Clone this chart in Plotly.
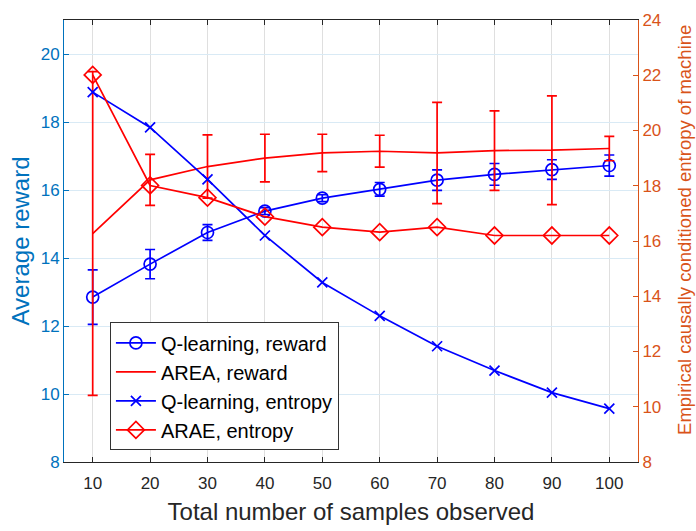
import plotly.graph_objects as go

samples = [10, 20, 30, 40, 50, 60, 70, 80, 90, 100]

q_reward = [12.85, 13.82, 14.75, 15.38, 15.76, 16.02, 16.29, 16.46, 16.60, 16.72]
q_reward_err = [0.80, 0.43, 0.23, 0.10, 0.10, 0.20, 0.30, 0.32, 0.29, 0.31]

area_reward = [14.72, 16.30, 16.69, 16.94, 17.09, 17.14, 17.09, 17.16, 17.17, 17.22]
area_reward_err = [4.76, 0.75, 0.93, 0.70, 0.55, 0.47, 1.49, 1.17, 1.60, 0.36]

q_entropy = [21.39, 20.11, 18.23, 16.20, 14.50, 13.29, 12.19, 11.31, 10.51, 9.93]
arae_entropy = [22.01, 18.01, 17.57, 16.88, 16.50, 16.32, 16.50, 16.20, 16.20, 16.20]

left_ticks = [8, 10, 12, 14, 16, 18, 20]
right_ticks = [8, 10, 12, 14, 16, 18, 20, 22, 24]

BLUE_AX = "#0072BD"
ORANGE_AX = "#D95319"
DARK = "#262626"
FONT = "Liberation Sans, Arial, sans-serif"
LW = 1.7

fig = go.Figure()

fig.add_trace(go.Scatter(
    x=samples, y=q_reward, name="Q-learning, reward", mode="lines+markers",
    line=dict(color="blue", width=LW),
    marker=dict(symbol="circle-open", size=12, color="blue", line=dict(width=LW, color="blue")),
    error_y=dict(type="data", array=q_reward_err, visible=True, color="blue", thickness=LW, width=5),
    legendgroup="a", yaxis="y",
))
fig.add_trace(go.Scatter(
    x=samples, y=area_reward, name="AREA, reward", mode="lines",
    line=dict(color="red", width=LW),
    error_y=dict(type="data", array=area_reward_err, visible=True, color="red", thickness=LW, width=5),
    legendgroup="b", yaxis="y",
))
fig.add_trace(go.Scatter(
    x=samples, y=q_entropy, name="Q-learning, entropy", mode="lines+markers",
    line=dict(color="blue", width=LW),
    marker=dict(symbol="x-thin-open", size=10, color="blue", line=dict(width=LW, color="blue")),
    legendgroup="c", yaxis="y2",
))
fig.add_trace(go.Scatter(
    x=samples, y=arae_entropy, name="ARAE, entropy", mode="lines+markers",
    line=dict(color="red", width=LW),
    marker=dict(symbol="diamond-open", size=13, color="red", line=dict(width=LW, color="red")),
    legendgroup="d", yaxis="y2",
))

fig.update_layout(
    width=696, height=531,
    margin=dict(l=64, r=58, t=11, b=68, pad=0),
    paper_bgcolor="white", plot_bgcolor="white",
    font=dict(family=FONT, color=DARK, size=17),
    showlegend=True,
    legend=dict(
        x=0.080, y=0.3157, xanchor="left", yanchor="top",
        bgcolor="white", bordercolor="#333333", borderwidth=1,
        font=dict(family=FONT, size=20, color="black"),
        tracegroupgap=0, traceorder="grouped", itemwidth=40,
    ),
    xaxis=dict(
        range=[5, 105], tickvals=samples, ticktext=[str(s) for s in samples],
        showgrid=True, gridcolor="rgb(223,223,223)", gridwidth=1,
        showline=True, linecolor=DARK, linewidth=1, mirror="ticks",
        ticks="inside", ticklen=5, tickcolor=DARK, tickwidth=1,
        tickfont=dict(size=17, color=DARK), zeroline=False, ticklabelstandoff=6,
        title=dict(text="Total number of samples observed", font=dict(size=24, color=DARK), standoff=10),
    ),
    yaxis=dict(
        range=[8, 21], tickvals=left_ticks, ticktext=[str(t) for t in left_ticks],
        showgrid=True, gridcolor="rgb(217,234,245)", gridwidth=1,
        showline=True, linecolor=BLUE_AX, linewidth=1,
        ticks="inside", ticklen=5, tickcolor=BLUE_AX, tickwidth=1,
        tickfont=dict(size=17, color=BLUE_AX), zeroline=False,
        title=dict(text="Average reward", font=dict(size=24, color=BLUE_AX), standoff=4),
    ),
    yaxis2=dict(
        range=[8, 24], tickvals=right_ticks, ticktext=[str(t) for t in right_ticks],
        overlaying="y", side="right", anchor="x",
        showgrid=False,
        showline=True, linecolor=ORANGE_AX, linewidth=1,
        ticks="inside", ticklen=5, tickcolor=ORANGE_AX, tickwidth=1,
        tickfont=dict(size=17, color=ORANGE_AX), zeroline=False,
    ),
    annotations=[dict(
        text="Empirical causally conditioned entropy of machine",
        xref="paper", yref="paper", x=1, y=0.525, xshift=47,
        xanchor="center", yanchor="middle", textangle=-90, showarrow=False,
        font=dict(family=FONT, size=18.5, color=ORANGE_AX),
    )],
)

fig.write_html("out.html")
